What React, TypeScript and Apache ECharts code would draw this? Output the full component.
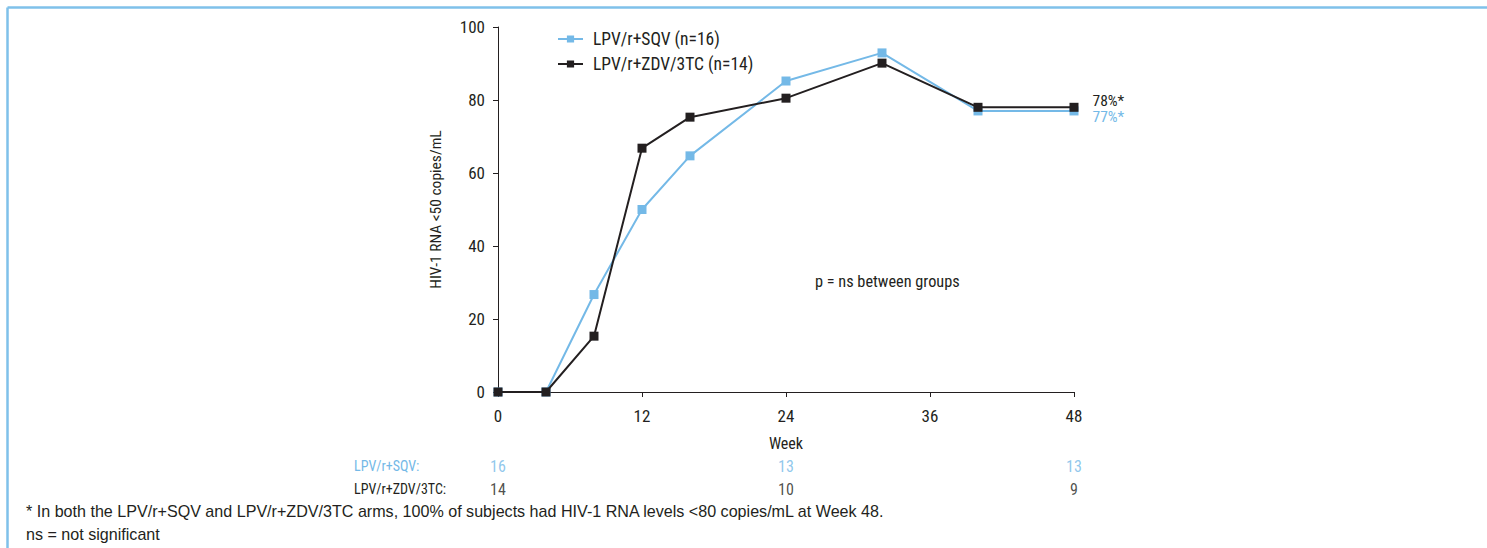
import React, { useEffect, useRef } from "react";
import * as echarts from "echarts";

const weeks = [0, 4, 8, 12, 16, 24, 32, 40, 48];
const sqvValues = [0, 0, 26.7, 50, 64.7, 85.2, 92.9, 77, 77];
const zdvValues = [0, 0, 15.3, 66.8, 75.3, 80.5, 90.1, 78, 78];
const sqvName = "LPV/r+SQV (n=16)";
const zdvName = "LPV/r+ZDV/3TC (n=14)";
const sqvEnd = "77%*";
const zdvEnd = "78%*";
const xTicks = [0, 12, 24, 36, 48];
const yTicks = [0, 20, 40, 60, 80, 100];
const riskRows = ["LPV/r+SQV:", "LPV/r+ZDV/3TC:"];
const riskWeeks = [0, 24, 48];
const sqvAtRisk = [16, 13, 13];
const zdvAtRisk = [14, 10, 9];
const footnotes = [
  "* In both the LPV/r+SQV and LPV/r+ZDV/3TC arms, 100% of subjects had HIV-1 RNA levels <80 copies/mL at Week 48.",
  "ns = not significant",
];
const pText = "p = ns between groups";

const BLUE = "#74b9e7";
const BLACK = "#231f20";
const FONT = "'Roboto Condensed', 'Liberation Sans', sans-serif";
const FOOT_FONT = "'Liberation Sans', Arial, sans-serif";

export default function App() {
  const ref = useRef<HTMLDivElement>(null);
  useEffect(() => {
    if (!ref.current) return;
    const chart = echarts.init(ref.current, undefined, { renderer: "svg" });
    const lastIdx = weeks.length - 1;
    const mk = (vals: number[], endText: string, offY: number, color: string) =>
      vals.map((v, i) =>
        i === lastIdx
          ? {
              value: [weeks[i], v],
              label: {
                show: true,
                position: "right",
                formatter: endText,
                offset: [9, offY],
                color,
                fontSize: 15.5,
                fontFamily: FONT,
              },
            }
          : { value: [weeks[i], v] }
      );
    chart.setOption({
      animation: false,
      textStyle: { fontFamily: FONT },
      grid: [
        { left: 498, right: 413, top: 27, bottom: 156 },
        { left: 498, right: 413, top: 454.5, height: 46 },
      ],
      legend: {
        orient: "vertical",
        left: 552,
        top: 25,
        itemWidth: 25,
        itemHeight: 9,
        itemGap: 7,
        textStyle: { fontSize: 17.5, color: BLACK, fontFamily: FONT, padding: [0, 0, 0, 5] },
        data: [sqvName, zdvName],
      },
      xAxis: [
        {
          type: "value",
          gridIndex: 0,
          min: 0,
          max: 48,
          interval: 12,
          name: "Week",
          nameLocation: "middle",
          nameGap: 43,
          nameTextStyle: { fontSize: 16, color: BLACK, fontFamily: FONT },
          axisLine: { lineStyle: { color: BLACK, width: 1 } },
          axisTick: { show: true, length: 5, lineStyle: { color: BLACK } },
          axisLabel: {
            fontSize: 17,
            color: BLACK,
            margin: 15,
            fontFamily: FONT,
            formatter: (v: number) => (xTicks.includes(v) ? String(v) : ""),
          },
          splitLine: { show: false },
        },
        {
          type: "value",
          gridIndex: 1,
          min: 0,
          max: 48,
          interval: 12,
          show: false,
        },
      ],
      yAxis: [
        {
          type: "value",
          gridIndex: 0,
          min: 0,
          max: 100,
          interval: 20,
          name: "HIV-1 RNA <50 copies/mL",
          nameLocation: "middle",
          nameGap: 54,
          nameTextStyle: { fontSize: 15.5, color: BLACK, fontFamily: FONT },
          axisLine: { show: true, lineStyle: { color: BLACK, width: 1 } },
          axisTick: { show: true, length: 5, lineStyle: { color: BLACK } },
          axisLabel: {
            fontSize: 17,
            color: BLACK,
            margin: 13,
            fontFamily: FONT,
            formatter: (v: number) => (yTicks.includes(v) ? String(v) : ""),
          },
          splitLine: { show: false },
        },
        {
          type: "category",
          gridIndex: 1,
          inverse: true,
          data: riskRows,
          axisLine: { show: false },
          axisTick: { show: false },
          axisLabel: {
            align: "left",
            margin: 144,
            fontSize: 14,
            fontFamily: FONT,
            color: (_v: string, i: number) => (i === 0 ? BLUE : BLACK),
          },
        },
      ],
      series: [
        {
          name: sqvName,
          type: "line",
          xAxisIndex: 0,
          yAxisIndex: 0,
          data: mk(sqvValues, sqvEnd, 6, BLUE),
          symbol: "rect",
          symbolSize: 9,
          lineStyle: { color: BLUE, width: 2 },
          itemStyle: { color: BLUE },
          z: 2,
        },
        {
          name: zdvName,
          type: "line",
          xAxisIndex: 0,
          yAxisIndex: 0,
          data: mk(zdvValues, zdvEnd, -6, BLACK),
          symbol: "rect",
          symbolSize: 9,
          lineStyle: { color: BLACK, width: 2 },
          itemStyle: { color: BLACK },
          z: 3,
        },
        {
          type: "scatter",
          xAxisIndex: 1,
          yAxisIndex: 1,
          symbolSize: 1,
          itemStyle: { color: "transparent" },
          data: riskWeeks.map((w, i) => [w, riskRows[0], sqvAtRisk[i]]),
          label: {
            show: true,
            position: "inside",
            formatter: (p: any) => String(p.value[2]),
            color: BLUE,
            fontSize: 16,
            fontFamily: FONT,
          },
        },
        {
          type: "scatter",
          xAxisIndex: 1,
          yAxisIndex: 1,
          symbolSize: 1,
          itemStyle: { color: "transparent" },
          data: riskWeeks.map((w, i) => [w, riskRows[1], zdvAtRisk[i]]),
          label: {
            show: true,
            position: "inside",
            formatter: (p: any) => String(p.value[2]),
            color: BLACK,
            fontSize: 16,
            fontFamily: FONT,
          },
        },
      ],
      graphic: [
        {
          type: "line",
          shape: { x1: 7.5, y1: 7.5, x2: 1487, y2: 7.5 },
          style: { stroke: "#7fc1ea", lineWidth: 2.5 },
        },
        {
          type: "line",
          shape: { x1: 7.5, y1: 7.5, x2: 7.5, y2: 548 },
          style: { stroke: "#7fc1ea", lineWidth: 2.5 },
        },
        {
          type: "text",
          left: 815,
          top: 273,
          style: { text: pText, fontSize: 16.3, fill: BLACK, fontFamily: FONT },
        },
        {
          type: "text",
          left: 26,
          top: 503,
          style: { text: footnotes[0], fontSize: 16.1, fill: BLACK, fontFamily: FOOT_FONT },
        },
        {
          type: "text",
          left: 26,
          top: 526,
          style: { text: footnotes[1], fontSize: 16.1, fill: BLACK, fontFamily: FOOT_FONT },
        },
      ],
    });
    return () => chart.dispose();
  }, []);
  return (
    <div
      ref={ref}
      style={{ position: "absolute", left: 0, top: 0, width: 1487, height: 548, background: "#fff" }}
    />
  );
}
